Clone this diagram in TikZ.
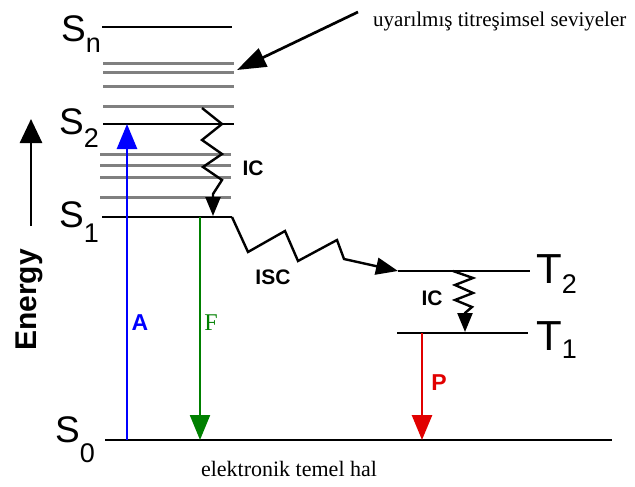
\documentclass[tikz,border=0pt]{standalone}
\usepackage{fontspec}
\setmainfont{Liberation Serif}
\setsansfont{Liberation Sans}
\usetikzlibrary{arrows.meta}
\definecolor{vibgray}{RGB}{128,128,128}
\definecolor{fgreen}{RGB}{0,128,0}
\definecolor{pblue}{RGB}{0,0,255}
\definecolor{pred}{RGB}{225,0,0}
\newcommand{\subl}[2]{\raisebox{-#1pt}{\fontsize{27}{27}\selectfont #2}}
\begin{document}
\begin{tikzpicture}[x=1pt,y=-1pt,
  level/.style={line width=2.9pt, black},
  vib/.style={line width=3pt, vibgray},
  slab/.style={font=\sffamily\fontsize{37}{37}\selectfont, inner sep=0pt, anchor=base west},
  tlab/.style={font=\sffamily\fontsize{42}{42}\selectfont, inner sep=0pt, anchor=base west},
  bigarrow/.style={line width=2.7pt, -{Triangle[length=25pt,width=20pt]}},
  zig/.style={line width=2.4pt, line join=miter, -{Triangle[length=19pt,width=15pt]}},
  smalllab/.style={font=\sffamily\bfseries\fontsize{21}{21}\selectfont, inner sep=0pt},
  translab/.style={font=\sffamily\bfseries\fontsize{23}{23}\selectfont, inner sep=0pt},
  serifnote/.style={font=\fontsize{21}{21}\selectfont, inner sep=0pt}
]
\useasboundingbox (0,0) rectangle (635,487);

% singlet and triplet levels
\coordinate (Sn-l) at (102,27);  \coordinate (Sn-r) at (232,27);
\coordinate (S2-l) at (103,124); \coordinate (S2-r) at (234,124);
\coordinate (S1-l) at (102,217); \coordinate (S1-r) at (232,217);
\coordinate (S0-l) at (105,440); \coordinate (S0-r) at (612,440);
\coordinate (T2-l) at (398,271); \coordinate (T2-r) at (530,271);
\coordinate (T1-l) at (397,333); \coordinate (T1-r) at (528,333);

\draw[level] (Sn-l) -- (Sn-r);
\draw[level] (S2-l) -- (S2-r);
\draw[level] (S1-l) -- (S1-r);
\draw[level] (S0-l) -- (S0-r);
\draw[level] (T2-l) -- (T2-r);
\draw[level] (T1-l) -- (T1-r);

% vibrational levels
\foreach \y/\n in {64/a,73/b,87/c,107/d}{
  \coordinate (va\n-l) at (103,\y); \coordinate (va\n-r) at (234,\y);
  \draw[vib] (va\n-l) -- (va\n-r);
}
\foreach \y/\n in {154/a,165/b,177/c,197/d}{
  \coordinate (vb\n-l) at (100,\y); \coordinate (vb\n-r) at (231,\y);
  \draw[vib] (vb\n-l) -- (vb\n-r);
}

% level labels
\node[slab] (Sn) at (61,42) {S\subl{10}{n}};
\node[slab] (S2) at (59,135) {S\subl{13}{2}};
\node[slab] (S1) at (59,227) {S\subl{15}{1}};
\node[slab] (S0) at (55,442) {S\subl{20}{0}};
\node[tlab] (T2) at (536,283) {T\subl{10}{2}};
\node[tlab] (T1) at (536,350) {T\subl{8}{1}};

% energy axis
\coordinate (E-a) at (31,226);
\coordinate (E-b) at (31,119);
\draw[line width=2.7pt, -{Triangle[length=24pt,width=22pt]}] (E-a) -- (E-b);
\node[rotate=90, font=\sffamily\bfseries\fontsize{30}{30}\selectfont, inner sep=0pt] (energy) at (29,300) {Energy};

% pointer to vibrational levels
\coordinate (ptr-a) at (358,12);
\coordinate (ptr-b) at (237,70);
\draw[line width=2.7pt, -{Triangle[length=29pt,width=20pt]}] (ptr-a) -- (ptr-b);
\node[serifnote, anchor=base west] (vibtext) at (373,27) {uyarılmış titreşimsel seviyeler};

% absorption
\coordinate (A-a) at (127,440);
\coordinate (A-b) at (127,124);
\draw[bigarrow, pblue] (A-a) -- (A-b);
\node[translab, pblue] (Alab) at (140,323) {A};

% fluorescence
\coordinate (F-a) at (200,217);
\coordinate (F-b) at (200,440);
\draw[bigarrow, fgreen, line width=2.2pt] (F-a) -- (F-b);
\node[font=\fontsize{24}{24}\selectfont, inner sep=0pt, fgreen] (Flab) at (211,323) {F};

% phosphorescence
\coordinate (P-a) at (422,333);
\coordinate (P-b) at (422,440);
\draw[bigarrow, pred] (P-a) -- (P-b);
\node[translab, pred] (Plab) at (439,383) {P};

% internal conversion S2 -> S1
\coordinate (icS-a) at (202,108);
\coordinate (icS-b) at (213,216);
\draw[zig] (icS-a) -- (222,124) -- (202,140) -- (222,154) -- (203,167) -- (222,180) -- (213,194) -- (icS-b);
\node[smalllab] (icS) at (253,168) {IC};

% intersystem crossing S1 -> T2
\draw[line width=2.4pt, line join=miter, -{Triangle[length=22pt,width=17pt]}]
  (S1-r) -- (248,252) -- (285,231) -- (298,261) -- (337,240) -- (344,259) -- (T2-l);
\node[smalllab] (isc) at (273,277) {ISC};

% internal conversion T2 -> T1
\coordinate (icT-a) at (453,271);
\coordinate (icT-b) at (465,332);
\draw[zig] (icT-a) -- (473,278) -- (455,285) -- (473,293) -- (455,300) -- (472,307) -- (465,313) -- (icT-b);
\node[smalllab] (icT) at (432,298) {IC};

% ground state label
\node[font=\fontsize{22}{22}\selectfont, inner sep=0pt] (ground) at (289,469) {elektronik temel hal};
\end{tikzpicture}
\end{document}
